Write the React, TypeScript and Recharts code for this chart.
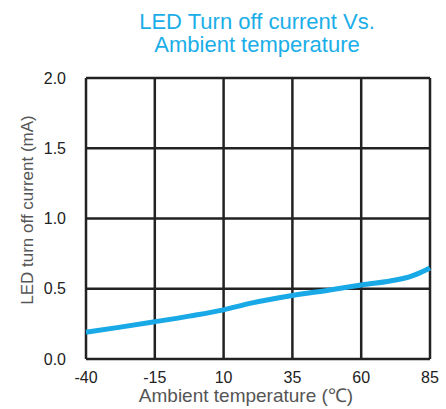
import React from 'react';
import { LineChart, Line, XAxis, YAxis, CartesianGrid, Customized } from 'recharts';

const temperatures = [-40, -27.5, -15, -2.5, 10, 20, 35, 48, 60, 73, 78, 81.5, 85];
const currents = [0.19, 0.227, 0.265, 0.305, 0.35, 0.398, 0.452, 0.49, 0.527, 0.564, 0.588, 0.615, 0.648];
const xTicks = [-40, -15, 10, 35, 60, 85];
const yTicks = [0, 0.5, 1.0, 1.5, 2.0];

const data = temperatures.map((t, i) => ({ t, c: currents[i] }));

const FONT = 'Liberation Sans, Arial, sans-serif';

const Title = () => (
  <g>
    <text x={257} y={29} textAnchor="middle" fill="#1aaee8" fontSize={22} fontFamily={FONT}>LED Turn off current Vs.</text>
    <text x={257} y={52} textAnchor="middle" fill="#1aaee8" fontSize={22} fontFamily={FONT}>Ambient temperature</text>
    <text x={246} y={402} textAnchor="middle" fill="#555" fontSize={19} fontFamily={FONT}>Ambient temperature (℃)</text>
    <text x={33} y={210} textAnchor="middle" fill="#555" fontSize={17} fontFamily={FONT} transform="rotate(-90 33 210)">LED turn off current (mA)</text>
  </g>
);

export default function App() {
  return (
    <div style={{ position: 'absolute', left: 0, top: 0 }}>
      <LineChart width={446} height={409} data={data} margin={{ top: 78, right: 16, bottom: 0, left: 0 }}>
        <CartesianGrid stroke="#222" strokeWidth={2.5} />
        <XAxis
          dataKey="t"
          type="number"
          domain={[-40, 85]}
          ticks={xTicks}
          axisLine={false}
          tickLine={false}
          tickSize={0}
          tickMargin={13}
          height={50}
          interval={0}
          tick={{ fill: '#222', fontSize: 16, fontFamily: FONT }}
        />
        <YAxis
          type="number"
          domain={[0, 2]}
          ticks={yTicks}
          axisLine={false}
          tickLine={false}
          tickSize={0}
          tickMargin={20}
          width={86}
          interval={0}
          tickFormatter={(v: number) => v.toFixed(1)}
          tick={{ fill: '#222', fontSize: 16, fontFamily: FONT }}
        />
        <Line type="monotone" dataKey="c" stroke="#18a9e6" strokeWidth={5} dot={false} isAnimationActive={false} />
        <Customized component={Title} />
      </LineChart>
    </div>
  );
}
